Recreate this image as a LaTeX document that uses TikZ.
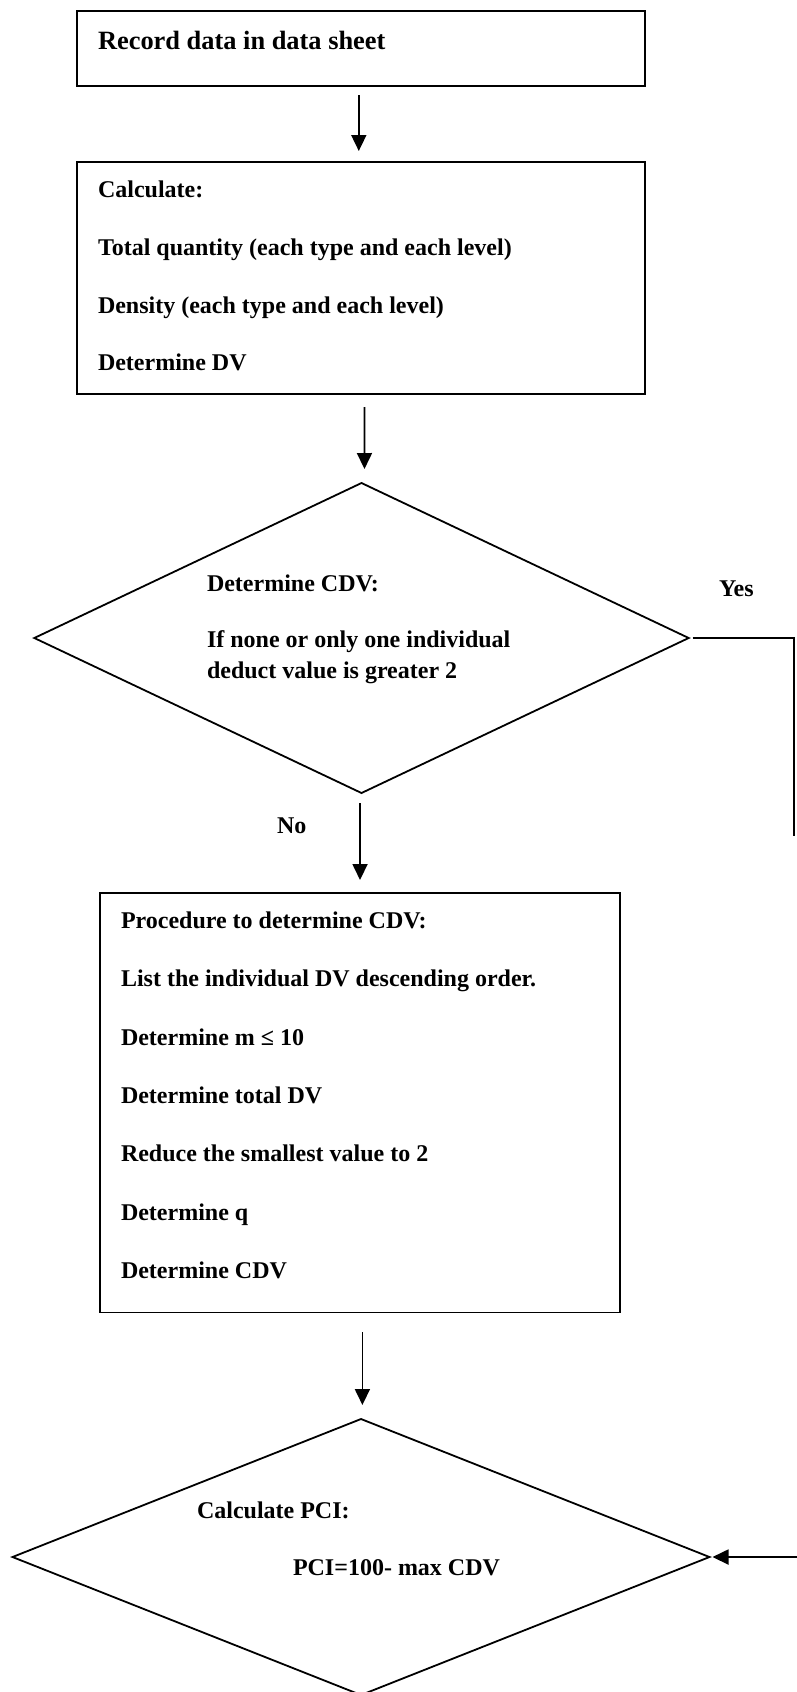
\documentclass[tikz,border=0pt]{standalone}
\usepackage{fontspec}
\setmainfont{Liberation Serif}
\usetikzlibrary{arrows.meta,shapes.geometric}
\tikzset{
  boxnode/.style={draw, line width=0.9pt, rectangle, inner sep=0pt, outer sep=0pt},
  dianode/.style={draw, line width=0.9pt, diamond, inner sep=0pt, outer sep=0pt, shape aspect=2},
  txt/.style={inner sep=0pt, outer sep=0pt, anchor=base west, font=\fontsize{12pt}{14pt}\selectfont\bfseries},
  bigtxt/.style={txt, font=\fontsize{13.2pt}{15pt}\selectfont\bfseries},
  arr/.style={line width=0.9pt, -{Triangle[length=8pt,width=7.5pt]}},
  conn/.style={line width=0.9pt}
}
\begin{document}
\begin{tikzpicture}[x=0.5pt,y=-0.5pt]
\useasboundingbox (0,0) rectangle (797,1692);
\clip (0,0) rectangle (797,1692);
\fill[white] (0,0) rectangle (797,1692);

% boxes
\node[boxnode, minimum width=284.2pt, minimum height=37.75pt] (b1) at (360.8,48.55) {};
\node[boxnode, minimum width=284.2pt, minimum height=116pt] (b2) at (360.8,278) {};
\node[dianode, minimum width=327.2pt, minimum height=155pt] (d1) at (361.5,638) {};
\node[boxnode, minimum width=260pt, minimum height=209.75pt] (b3) at (360,1102.75) {};
\node[dianode, minimum width=348.5pt, minimum height=138pt] (d2) at (361,1557) {};

% texts
\node[bigtxt] (t1) at (98,49) {Record data in data sheet};

\node[txt] (t2a) at (98,197) {Calculate:};
\node[txt] (t2b) at (98,255) {Total quantity (each type and each level)};
\node[txt] (t2c) at (98,313) {Density (each type and each level)};
\node[txt] (t2d) at (98,370) {Determine DV};

\node[txt] (t3a) at (207,591) {Determine CDV:};
\node[txt] (t3b) at (207,647) {If none or only one individual};
\node[txt] (t3c) at (207,678) {deduct value is greater 2};

\node[txt] (yes) at (719,596) {Yes};
\node[txt] (no) at (277,833) {No};

\node[txt] (t4a) at (121,928) {Procedure to determine CDV:};
\node[txt] (t4b) at (121,986) {List the individual DV descending order.};
\node[txt] (t4c) at (121,1045) {Determine m ≤ 10};
\node[txt] (t4d) at (121,1103) {Determine total DV};
\node[txt] (t4e) at (121,1161) {Reduce the smallest value to 2};
\node[txt] (t4f) at (121,1220) {Determine q};
\node[txt] (t4g) at (121,1278) {Determine CDV};

\node[txt] (t5a) at (197,1518) {Calculate PCI:};
\node[txt] (t5b) at (293,1575) {PCI=100- max CDV};

% connectors
\draw[arr, shorten <=4.5pt, shorten >=5.5pt] ([xshift=-1pt]b1.south) -- ([xshift=-1pt]b2.north);
\draw[arr, shorten <=6.5pt, shorten >=7pt] ([xshift=1.8pt]b2.south) -- ([xshift=1.5pt]d1.north);
\draw[arr, shorten <=5pt, shorten >=6.5pt] ([xshift=-0.7pt]d1.south) -- (b3.north);
\draw[arr, shorten <=9.75pt, shorten >=7pt] ([xshift=1.2pt]b3.south) -- ([xshift=0.7pt]d2.north);

\coordinate (ycorner) at (794,638);
\coordinate (yend) at (794,836);
\draw[conn, shorten <=2pt] (d1.east) -- (ycorner) -- (yend);

\coordinate (pin) at (797,1557);
\draw[arr, shorten >=1.5pt] (pin) -- (d2.east);
\end{tikzpicture}
\end{document}
